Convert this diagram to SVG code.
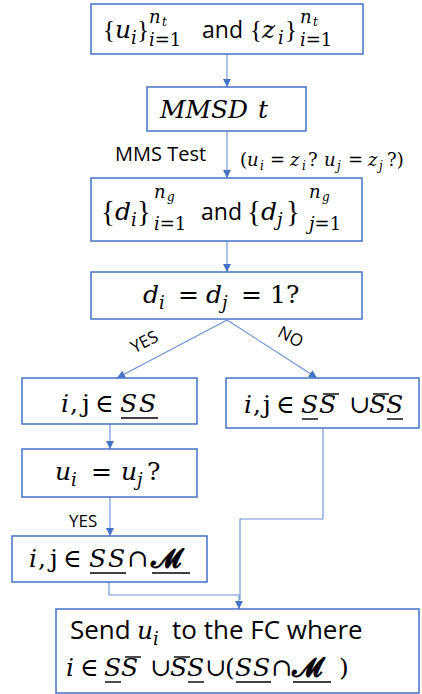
<svg xmlns="http://www.w3.org/2000/svg" width="422" height="694" viewBox="0 0 422 694">
  <style>
    .box { fill: #ffffff; stroke: #4472C4; stroke-width: 1.5; }
    .wire { fill: none; stroke: #6A8FD3; stroke-width: 1.1; }
    .bar { stroke: #000; stroke-width: 1.4; }
    .m { font-family: "DejaVu Serif", "Liberation Serif", serif; font-size: 25px; fill: #000; }
    .brc { font-family: "Liberation Serif", "DejaVu Serif", serif; }
    .it { font-style: italic; }
    .sb { font-size: 18px; }
    .ss { font-size: 12px; }
    .br { font-size: 29px; }
    .cal { font-family: "Open Sans", Lato, sans-serif; fill: #000; }
    .and { font-size: 23px; }
    .lead { font-size: 26px; }
    .lbl { font-size: 20px; }
    .yes { font-size: 17px; }
    .q { font-size: 18px; }
    .scr { font-weight: bold; font-size: 27px; }
  </style>
  <defs>
    <marker id="arrow" viewBox="0 0 10 10" refX="10" refY="5" markerUnits="userSpaceOnUse" markerWidth="9" markerHeight="8" orient="auto">
      <path d="M0,0 L10,5 L0,10 z" fill="#4472C4"/>
    </marker>
  </defs>
  <rect width="422" height="694" fill="#ffffff"/>

  <!-- connectors and their labels -->
  <g id="connectors">
    <line class="wire" x1="227" y1="54" x2="227" y2="87" marker-end="url(#arrow)"/>
    <line class="wire" x1="227" y1="131" x2="227" y2="178" marker-end="url(#arrow)"/>
    <line class="wire" x1="227" y1="241" x2="227" y2="272" marker-end="url(#arrow)"/>
    <line class="wire" x1="227" y1="320" x2="117" y2="378" marker-end="url(#arrow)"/>
    <line class="wire" x1="227" y1="320" x2="317" y2="378" marker-end="url(#arrow)"/>
    <line class="wire" x1="110" y1="424" x2="110" y2="449" marker-end="url(#arrow)"/>
    <line class="wire" x1="110" y1="497" x2="110" y2="536" marker-end="url(#arrow)"/>
    <polyline class="wire" points="109,582 109,595 239,595 239,609" marker-end="url(#arrow)"/>
    <polyline class="wire" points="323,428 323,519 240,519 240,600"/>
    <text class="cal lbl" x="115" y="161">MMS Test</text>
    <text class="m q"><tspan x="240" y="166">(</tspan><tspan class="it" x="247" y="166">u</tspan><tspan class="it ss" x="260" y="170">i</tspan><tspan x="270" y="166">=</tspan><tspan class="it" x="290" y="166">z</tspan><tspan class="it ss" x="302" y="170">i</tspan><tspan x="308" y="166">?</tspan><tspan class="it" x="324" y="166">u</tspan><tspan class="it ss" x="337" y="170">j</tspan><tspan x="348" y="166">=</tspan><tspan class="it" x="368" y="166">z</tspan><tspan class="it ss" x="379" y="170">j</tspan><tspan x="387" y="166">?)</tspan></text>
    <text class="cal yes" transform="translate(147,347) rotate(-27)" text-anchor="middle">YES</text>
    <text class="cal yes" transform="translate(288,342) rotate(27)" text-anchor="middle">NO</text>
    <text class="cal yes" x="69" y="527">YES</text>
  </g>

  <!-- input sequences u and z -->
  <g id="inputs">
    <rect class="box" x="91" y="4" width="272" height="50"/>
    <text class="m"><tspan class="brc" x="103" y="38">{</tspan><tspan class="it" x="115" y="38">u</tspan><tspan class="it sb" x="131" y="44">i</tspan><tspan class="brc" x="137" y="38">}</tspan></text>
    <text class="m sb"><tspan class="it" x="149" y="23">n</tspan><tspan class="it ss" x="162" y="26">t</tspan></text>
    <text class="m sb"><tspan class="it" x="149" y="46">i</tspan><tspan>=1</tspan></text>
    <text class="cal and" x="202" y="38">and</text>
    <text class="m"><tspan class="brc" x="250" y="38">{</tspan><tspan class="it" x="262" y="38">z</tspan><tspan class="it sb" x="278" y="44">i</tspan><tspan class="brc" x="285" y="38">}</tspan></text>
    <text class="m sb"><tspan class="it" x="300" y="23">n</tspan><tspan class="it ss" x="313" y="26">t</tspan></text>
    <text class="m sb"><tspan class="it" x="300" y="46">i</tspan><tspan>=1</tspan></text>
  </g>

  <!-- MMSD test -->
  <g id="mmsd">
    <rect class="box" x="147" y="87" width="159" height="44"/>
    <text class="m it"><tspan x="160" y="118" textLength="88" lengthAdjust="spacingAndGlyphs">MMSD</tspan><tspan x="258" y="118">t</tspan></text>
  </g>

  <!-- decision sequences -->
  <g id="decisions">
    <rect class="box" x="91" y="178" width="271" height="63"/>
    <text class="m"><tspan class="brc br" x="101" y="221">{</tspan><tspan class="it" x="115" y="220">d</tspan><tspan class="it sb" x="131" y="226">i</tspan><tspan class="brc br" x="137" y="221">}</tspan></text>
    <text class="m sb"><tspan class="it" x="154" y="198">n</tspan><tspan class="it ss" x="167" y="201">g</tspan></text>
    <text class="m sb"><tspan class="it" x="154" y="230">i</tspan><tspan>=1</tspan></text>
    <text class="cal and" x="201" y="220">and</text>
    <text class="m"><tspan class="brc br" x="247" y="221">{</tspan><tspan class="it" x="261" y="220">d</tspan><tspan class="it sb" x="277" y="226">j</tspan><tspan class="brc br" x="286" y="221">}</tspan></text>
    <text class="m sb"><tspan class="it" x="309" y="198">n</tspan><tspan class="it ss" x="322" y="201">g</tspan></text>
    <text class="m sb"><tspan class="it" x="309" y="230">j</tspan><tspan>=1</tspan></text>
  </g>

  <!-- both decisions equal to one -->
  <g id="check-d">
    <rect class="box" x="91" y="272" width="271" height="47"/>
    <text class="m"><tspan class="it" x="143" y="303">d</tspan><tspan class="it sb" x="159" y="309">i</tspan><tspan x="178" y="303">=</tspan><tspan class="it" x="206" y="303">d</tspan><tspan class="it sb" x="222" y="309">j</tspan><tspan x="241" y="303">=</tspan><tspan x="270" y="303">1?</tspan></text>
  </g>

  <!-- YES branch: SS -->
  <g id="ss">
    <rect class="box" x="22" y="378" width="175" height="46"/>
    <text class="m"><tspan class="it" x="61" y="412">i</tspan><tspan x="70" y="412">,</tspan><tspan x="82" y="412">j</tspan><tspan x="95" y="412">∈</tspan><tspan class="it" x="120" y="412">S</tspan><tspan class="it" x="139" y="412">S</tspan></text>
    <line class="bar" x1="121" y1="418" x2="158" y2="418"/>
  </g>

  <!-- NO branch: mixed sets -->
  <g id="mixed">
    <rect class="box" x="226" y="378" width="193" height="50"/>
    <text class="m"><tspan class="it" x="244" y="413">i</tspan><tspan x="253" y="413">,</tspan><tspan x="263" y="413">j</tspan><tspan x="276" y="413">∈</tspan><tspan class="it" x="301" y="413">S</tspan><tspan class="it" x="319" y="413">S</tspan><tspan x="349" y="413">∪</tspan><tspan class="it" x="369" y="413">S</tspan><tspan class="it" x="386" y="413">S</tspan></text>
    <line class="bar" x1="302" y1="419" x2="318" y2="419"/>
    <line class="bar" x1="323" y1="394" x2="339" y2="394"/>
    <line class="bar" x1="373" y1="394" x2="389" y2="394"/>
    <line class="bar" x1="387" y1="419" x2="403" y2="419"/>
  </g>

  <!-- equal values check -->
  <g id="check-u">
    <rect class="box" x="22" y="449" width="175" height="48"/>
    <text class="m"><tspan class="it" x="55" y="480">u</tspan><tspan class="it sb" x="71" y="486">i</tspan><tspan x="91" y="480">=</tspan><tspan class="it" x="121" y="480">u</tspan><tspan class="it sb" x="137" y="486">j</tspan><tspan x="147" y="480">?</tspan></text>
  </g>

  <!-- SS intersect M -->
  <g id="ss-m">
    <rect class="box" x="12" y="536" width="195" height="46"/>
    <text class="m"><tspan class="it" x="29" y="567">i</tspan><tspan x="38" y="567">,</tspan><tspan x="50" y="567">j</tspan><tspan x="63" y="567">∈</tspan><tspan class="it" x="89" y="567">S</tspan><tspan class="it" x="108" y="567">S</tspan><tspan x="127" y="567">∩</tspan><tspan class="scr" x="151" y="567">𝓜</tspan></text>
    <line class="bar" x1="90" y1="573" x2="126" y2="573"/>
    <line class="bar" x1="152" y1="573" x2="190" y2="573"/>
  </g>

  <!-- send to the fusion centre -->
  <g id="send">
    <rect class="box" x="56" y="609" width="363" height="84"/>
    <text class="cal lead" x="70" y="639">Send</text>
    <text class="m"><tspan class="it" x="137" y="639">u</tspan><tspan class="it sb" x="153" y="645">i</tspan></text>
    <text class="cal lead" x="172" y="639">to the FC where</text>
    <text class="m"><tspan class="it" x="66" y="676">i</tspan><tspan x="80" y="676">∈</tspan><tspan class="it" x="104" y="676">S</tspan><tspan class="it" x="121" y="676">S</tspan><tspan x="150" y="676">∪</tspan><tspan class="it" x="170" y="676">S</tspan><tspan class="it" x="187" y="676">S</tspan><tspan x="205" y="676">∪</tspan><tspan x="225" y="676">(</tspan><tspan class="it" x="235" y="676">S</tspan><tspan class="it" x="253" y="676">S</tspan><tspan x="271" y="676">∩</tspan><tspan class="scr" x="292" y="676">𝓜</tspan><tspan x="339" y="676">)</tspan></text>
    <line class="bar" x1="105" y1="682" x2="121" y2="682"/>
    <line class="bar" x1="125" y1="657" x2="141" y2="657"/>
    <line class="bar" x1="174" y1="657" x2="190" y2="657"/>
    <line class="bar" x1="188" y1="682" x2="204" y2="682"/>
    <line class="bar" x1="236" y1="682" x2="271" y2="682"/>
    <line class="bar" x1="293" y1="682" x2="331" y2="682"/>
  </g>
</svg>
